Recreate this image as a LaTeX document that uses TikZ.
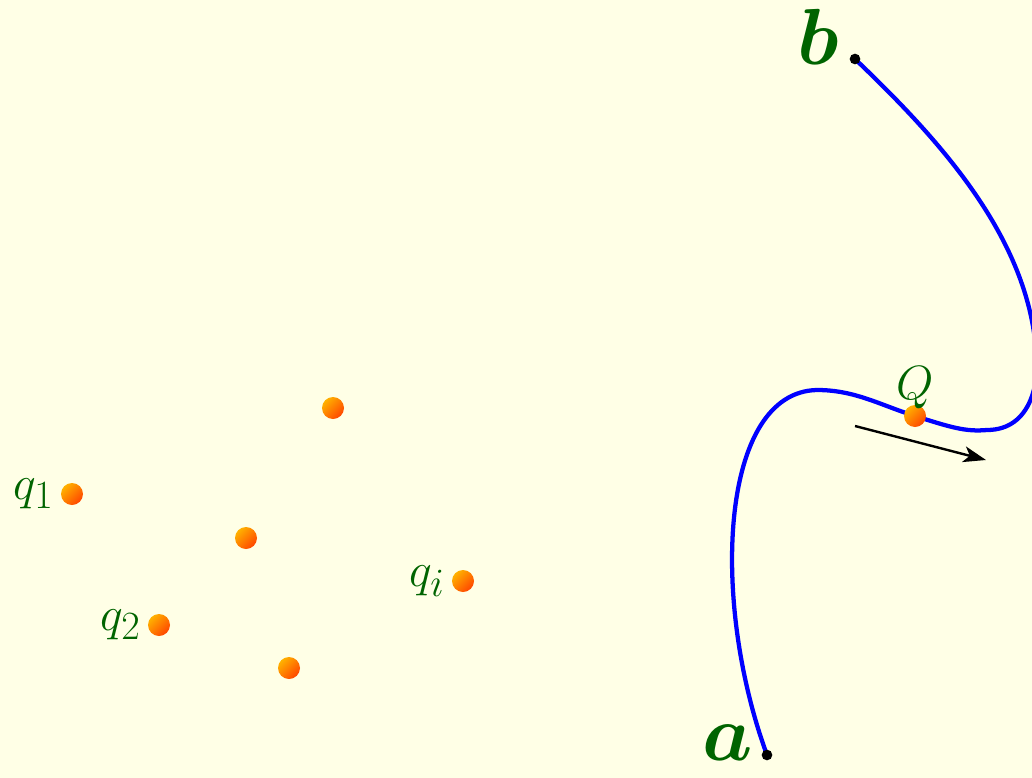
\documentclass[tikz,border=0pt]{standalone}
\usepackage{graphicx}
\usepackage{bm}
\usetikzlibrary{arrows.meta}
\definecolor{bgyellow}{RGB}{255,255,230}
\definecolor{labgreen}{RGB}{0,100,0}
\definecolor{ballhi}{RGB}{255,178,0}
\definecolor{balllo}{RGB}{255,70,0}
\newcommand{\smalllab}[1]{\scalebox{1.45}{\Huge $#1$}}
\newcommand{\biglabtxt}[1]{\scalebox{2.4}{\Huge $\bm{#1}$}}
\tikzset{
  ball/.style={circle, inner sep=0pt, minimum size=16.5pt, shading=axis, top color=ballhi, bottom color=balllo, shading angle=45},
  lab/.style={text=labgreen, inner sep=2pt},
  biglab/.style={text=labgreen, inner sep=0pt},
  enddot/.style={circle, fill=black, inner sep=0pt, minimum size=8pt},
  curve/.style={draw=blue, line width=3.2pt},
  motion/.style={draw=black, line width=1.8pt, -{Stealth[length=17pt, width=12pt, inset=4.5pt]}}
}
\begin{document}
\begin{tikzpicture}[x=0.75pt, y=-0.75pt]
\fill[bgyellow] (0,0) rectangle (1032,778);
\useasboundingbox (0,0) rectangle (1032,778);
\clip (0,0) rectangle (1032,778);
% curve end points
\coordinate (a) at (767,755);
\coordinate (b) at (855,59);
\coordinate (top) at (817,390);
\coordinate (Qc) at (915,416);
\coordinate (low) at (987,430);
\coordinate (edge) at (1035,340);
\path[curve] (a) .. controls (710,600) and (720,392) .. (top)
  .. controls (855,390) and (880,405) .. (Qc)
  .. controls (950,427) and (965,432) .. (low)
  .. controls (1032,430) and (1042,380) .. (edge)
  .. controls (1022,232) and (940,140) .. (b);
% motion arrow
\coordinate (m1) at (855,426);
\coordinate (m2) at (986,460);
\path[motion] (m1) -- (m2);
% end dots
\node[enddot] (adot) at (a) {};
\node[enddot] (bdot) at (b) {};
\node[biglab] (alab) at (728,743) {\biglabtxt{a}};
\node[biglab] (blab) at (818,37) {\biglabtxt{b}};
% charges
\node[ball] (q1) at (72,494) {};
\node[ball] (q2) at (159,625) {};
\node[ball] (q3) at (333,408) {};
\node[ball] (q4) at (246,538) {};
\node[ball] (q5) at (289,668) {};
\node[ball] (qi) at (463,581) {};
\node[ball] (Q) at (Qc) {};
\node[lab, anchor=east] (q1lab) at ([xshift=-3pt]q1.west) {\smalllab{q_1}};
\node[lab, anchor=east] (q2lab) at ([xshift=-3pt]q2.west) {\smalllab{q_2}};
\node[lab, anchor=east] (qilab) at ([xshift=-3pt]qi.west) {\smalllab{q_i}};
\node[lab, anchor=south] (Qlab) at ([yshift=-5pt]Q.north) {\smalllab{Q}};
\end{tikzpicture}
\end{document}
